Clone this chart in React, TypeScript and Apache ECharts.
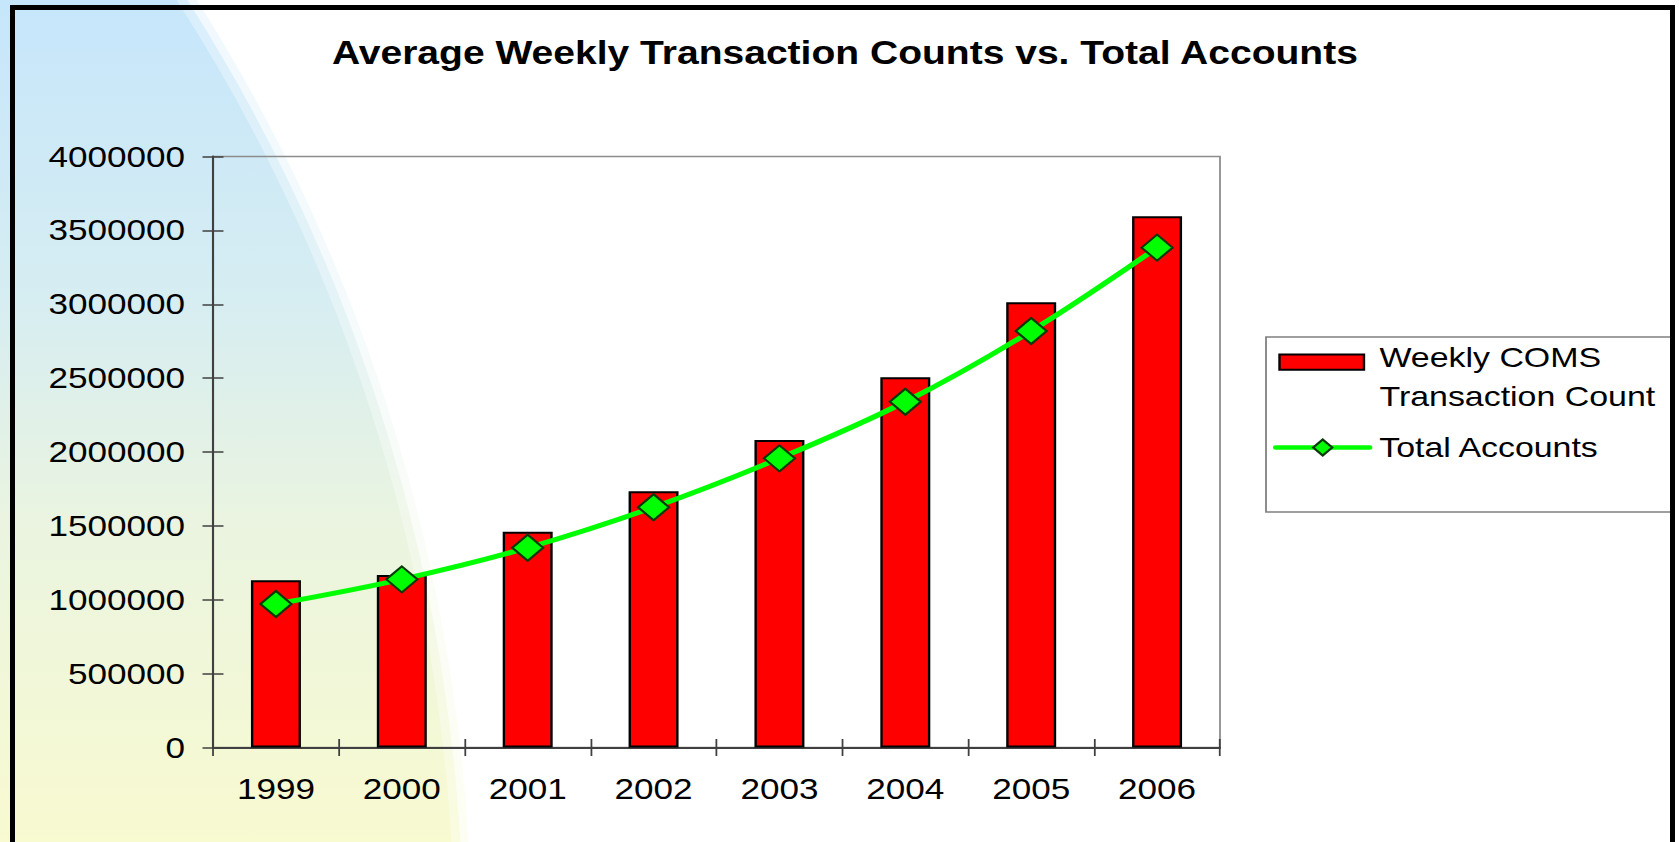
import React, { useEffect, useRef } from "react";
import * as echarts from "echarts";

// ---- data ----
const years = ["1999", "2000", "2001", "2002", "2003", "2004", "2005", "2006"];
const weeklyTransactions = [1132000, 1168000, 1461000, 1734000, 2082000, 2506000, 3013000, 3596000];
const totalAccounts = [971000, 1138000, 1352000, 1626000, 1957000, 2340000, 2819000, 3383000];
const yMin = 0;
const yMax = 4000000;
const yInterval = 500000;

const titleText = "Average Weekly Transaction Counts vs. Total Accounts";
const barName = "Weekly COMS Transaction Count";
const barLegendLines = ["Weekly COMS", "Transaction Count"];
const lineName = "Total Accounts";

// ---- layout (the reference is horizontally stretched) ----
const S = 1.19;
const W = Math.round(1679 / S);
const H = 842;
const FONT = "'Liberation Sans', Arial, Helvetica, sans-serif";
const ux = (x: number) => x / S; // screen x -> unstretched x

export default function App() {
  const ref = useRef<HTMLDivElement>(null);

  useEffect(() => {
    if (!ref.current) return;
    const chart = echarts.init(ref.current, null, { renderer: "svg", width: W, height: H });

    const bgGrad = {
      type: "linear",
      x: 0,
      y: 0,
      x2: 0,
      y2: H,
      global: true,
      colorStops: [
        { offset: 0, color: "#c6e6fb" },
        { offset: 0.35, color: "#d6edf2" },
        { offset: 0.62, color: "#eaf4e0" },
        { offset: 1, color: "#f8fad0" },
      ],
    };
    // background arc (screen coordinates), converted to the unstretched space
    const cX = -1300.5;
    const cY = 948;
    const R = 1760;
    const ell = (dR: number) => ({ cx: ux(cX), cy: cY, rx: ux(R + dR), ry: R + dR });

    const axisColor = "#404040";

    chart.setOption({
      animation: false,
      backgroundColor: "#ffffff",
      textStyle: { fontFamily: FONT },
      title: {
        text: titleText,
        left: ux(332),
        top: 36,
        padding: 0,
        textStyle: { fontFamily: FONT, fontSize: 32.8, fontWeight: "bold", color: "#000" },
      },
      grid: {
        left: ux(213),
        top: 156.5,
        width: ux(1220) - ux(213),
        height: 591,
        show: true,
        borderColor: "#8c8c8c",
        borderWidth: 1.5,
        backgroundColor: "transparent",
      },
      legend: [
        {
          data: [{ name: barName, icon: "rect" }],
          orient: "vertical",
          left: ux(1278.3),
          top: 318.7,
          padding: 0,
          itemWidth: 71,
          itemHeight: 15.3,
          selectedMode: false,
          formatter: () => "{s| }\n{a|" + barLegendLines[0] + "}\n{a|" + barLegendLines[1] + "}",
          textStyle: {
            fontFamily: FONT,
            fontSize: 28.5,
            color: "#000",
            padding: [0, 0, 0, 8],
            rich: {
              s: { fontSize: 10, lineHeight: 29.4 },
              a: { fontFamily: FONT, fontSize: 28.5, lineHeight: 38.4, color: "#000" },
            },
          },
          z: 5,
        },
        {
          data: [{ name: lineName }],
          orient: "vertical",
          left: ux(1276) - 2.5,
          top: 433,
          padding: 0,
          itemWidth: 79,
          itemHeight: 20,
          selectedMode: false,
          lineStyle: { width: 4.5, cap: "round" },
          textStyle: {
            fontFamily: FONT,
            fontSize: 28.5,
            color: "#000",
            padding: [0, 0, 0, 3],
          },
          z: 5,
        },
      ],
      xAxis: [
        {
          type: "category",
          data: years,
          position: "bottom",
          boundaryGap: true,
          axisLine: { show: true, lineStyle: { color: axisColor, width: 1.8 } },
          axisTick: { show: true, length: 8.5, lineStyle: { color: axisColor, width: 1.5 } },
          axisLabel: { fontFamily: FONT, fontSize: 29.5, color: "#000", margin: 26.5 },
          splitLine: { show: false },
        },
        {
          type: "category",
          data: years,
          position: "bottom",
          boundaryGap: true,
          axisLine: { show: false },
          axisTick: { show: true, inside: true, length: 8.5, lineStyle: { color: axisColor, width: 1.5 } },
          axisLabel: { show: false },
          splitLine: { show: false },
        },
      ],
      yAxis: [
        {
          type: "value",
          min: yMin,
          max: yMax,
          interval: yInterval,
          position: "left",
          axisLine: { show: true, lineStyle: { color: axisColor, width: 1.8 } },
          axisTick: { show: true, length: 8.8, lineStyle: { color: axisColor, width: 1.5 } },
          axisLabel: {
            fontFamily: FONT,
            fontSize: 29.5,
            color: "#000",
            margin: ux(213 - 185),
            formatter: (v: number) => String(v),
          },
          splitLine: { show: false },
        },
        {
          type: "value",
          min: yMin,
          max: yMax,
          interval: yInterval,
          position: "left",
          axisLine: { show: false },
          axisTick: { show: true, inside: true, length: 8.8, lineStyle: { color: axisColor, width: 1.5 } },
          axisLabel: { show: false },
          splitLine: { show: false },
        },
      ],
      series: [
        {
          name: barName,
          type: "bar",
          data: weeklyTransactions,
          barWidth: 42,
          itemStyle: { color: "#ff0000", borderColor: "#000000", borderWidth: 2 },
          z: 2,
        },
        {
          name: lineName,
          type: "line",
          data: totalAccounts,
          smooth: 0.35,
          symbol: "diamond",
          symbolSize: 26,
          lineStyle: { color: "#00ff00", width: 5 },
          itemStyle: { color: "#00ff00", borderColor: "#0a3a0a", borderWidth: 2 },
          z: 3,
        },
      ],
      graphic: {
        elements: [
          { type: "ellipse", silent: true, z: -12, shape: ell(12), style: { fill: bgGrad, opacity: 0.25 } },
          { type: "ellipse", silent: true, z: -11, shape: ell(4), style: { fill: bgGrad, opacity: 0.55 } },
          { type: "ellipse", silent: true, z: -10, shape: ell(-5), style: { fill: bgGrad } },
          {
            type: "rect",
            silent: true,
            z: 3,
            shape: { x: ux(1266), y: 337, width: ux(1672) - ux(1266), height: 175 },
            style: { fill: "#ffffff", stroke: "#808080", lineWidth: 1.5 },
          },
          {
            type: "rect",
            silent: true,
            z: 100,
            shape: { x: ux(10), y: 5, width: ux(5), height: H },
            style: { fill: "#000000" },
          },
          {
            type: "rect",
            silent: true,
            z: 100,
            shape: { x: ux(10), y: 5, width: ux(1675) - ux(10), height: 5 },
            style: { fill: "#000000" },
          },
          {
            type: "rect",
            silent: true,
            z: 100,
            shape: { x: ux(1670), y: 5, width: ux(5), height: H },
            style: { fill: "#000000" },
          },
        ],
      },
    });

    return () => chart.dispose();
  }, []);

  return (
    <div
      ref={ref}
      style={{
        position: "absolute",
        left: 0,
        top: 0,
        width: W,
        height: H,
        transform: `scaleX(${S})`,
        transformOrigin: "0 0",
      }}
    />
  );
}
